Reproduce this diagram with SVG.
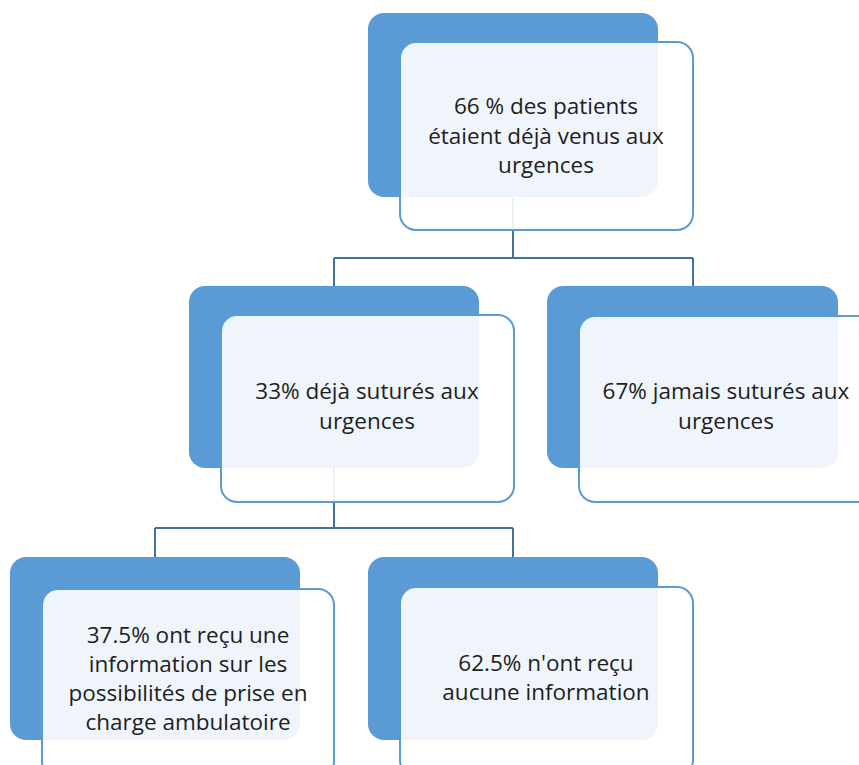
<svg xmlns="http://www.w3.org/2000/svg" width="859" height="765" viewBox="0 0 859 765">
<style>
.back{fill:#5B9BD5;}
.front{fill:#ffffff;fill-opacity:0.9;stroke:#5B9BD5;stroke-width:2;}
.conn{fill:none;stroke:#41719C;stroke-width:2;}
.t{font-family:"Open Sans","Noto Sans",sans-serif;font-size:22.5px;fill:#1e1e1e;text-anchor:middle;}
</style>
<rect width="859" height="765" fill="#ffffff"/>
<g id="connectors">
<path class="conn" d="M513,198 V258 M334,258 H693 M334,258 V286 M693,258 V286"/>
<path class="conn" d="M334,468 V528 M155,528 H513 M155,528 V557 M513,528 V557"/>
</g>
<g id="n1">
<rect class="back" x="368" y="13" width="290" height="184" rx="16"/>
<rect class="front" x="400" y="42" width="293" height="188" rx="16"/>
<text class="t" x="546" y="114">66 % des patients</text>
<text class="t" x="546" y="144">étaient déjà venus aux</text>
<text class="t" x="546" y="173">urgences</text>
</g>
<g id="n2">
<rect class="back" x="189" y="286" width="290" height="182" rx="16"/>
<rect class="front" x="221" y="315" width="293" height="187" rx="16"/>
<text class="t" x="367" y="399">33% déjà suturés aux</text>
<text class="t" x="367" y="429">urgences</text>
</g>
<g id="n3">
<rect class="back" x="547" y="286" width="291" height="182" rx="16"/>
<rect class="front" x="579" y="316" width="294" height="186" rx="16"/>
<text class="t" x="726" y="399">67% jamais suturés aux</text>
<text class="t" x="726" y="429">urgences</text>
</g>
<g id="n4">
<rect class="back" x="10" y="557" width="290" height="183" rx="16"/>
<rect class="front" x="42" y="589" width="292" height="188" rx="16"/>
<text class="t" x="188" y="643">37.5% ont reçu une</text>
<text class="t" x="188" y="672">information sur les</text>
<text class="t" x="188" y="701">possibilités de prise en</text>
<text class="t" x="188" y="730">charge ambulatoire</text>
</g>
<g id="n5">
<rect class="back" x="368" y="557" width="290" height="183" rx="16"/>
<rect class="front" x="400" y="587" width="293" height="189" rx="16"/>
<text class="t" x="546" y="671">62.5% n'ont reçu</text>
<text class="t" x="546" y="700">aucune information</text>
</g>
</svg>
